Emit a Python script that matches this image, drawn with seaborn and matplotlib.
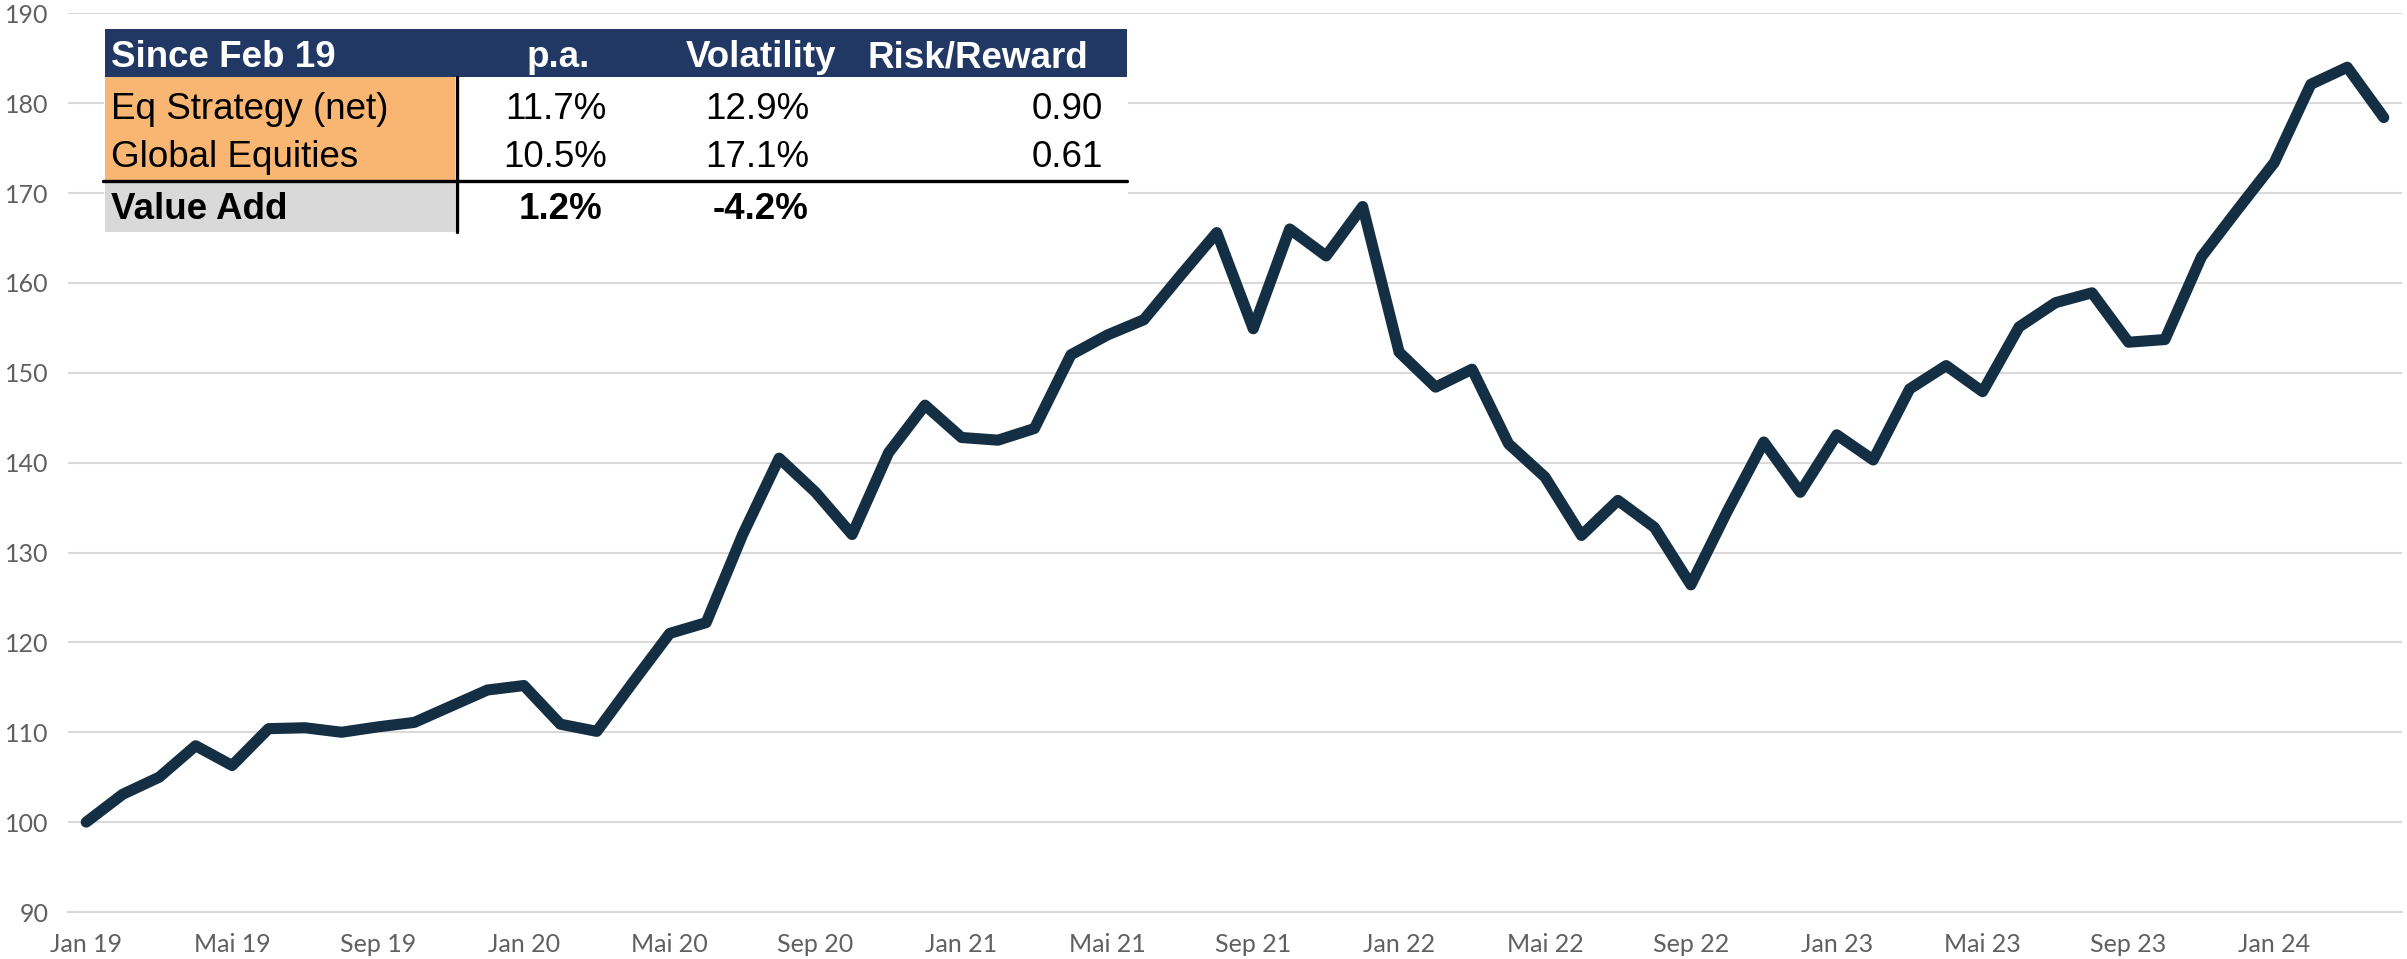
import matplotlib
matplotlib.use("Agg")
import matplotlib.pyplot as plt
import pandas as pd
import seaborn as sns
from matplotlib.patches import Rectangle
from matplotlib.lines import Line2D

# monthly index level, Jan 19 .. Apr 24
index_values = [100.0, 103.1, 105.0, 108.5, 106.3, 110.4, 110.5, 110.0, 110.6, 111.1,
                112.9, 114.7, 115.2, 110.9, 110.1, 115.6, 121.0, 122.2, 132.0, 140.5,
                136.7, 132.0, 141.1, 146.4, 142.8, 142.5, 143.8, 152.0, 154.2, 155.9,
                160.8, 165.6, 154.9, 166.0, 163.0, 168.5, 152.3, 148.4, 150.4, 142.1,
                138.4, 131.9, 135.8, 132.8, 126.4, 134.6, 142.3, 136.7, 143.1, 140.3,
                148.2, 150.8, 147.9, 155.1, 157.8, 158.9, 153.4, 153.7, 162.9, 168.2,
                173.4, 182.1, 184.0, 178.4]
month_labels = ["Jan 19", "Mai 19", "Sep 19", "Jan 20", "Mai 20", "Sep 20", "Jan 21", "Mai 21",
                "Sep 21", "Jan 22", "Mai 22", "Sep 22", "Jan 23", "Mai 23", "Sep 23", "Jan 24"]
y_ticks = [90, 100, 110, 120, 130, 140, 150, 160, 170, 180, 190]

# summary table
table_header = ["Since Feb 19", "p.a.", "Volatility", "Risk/Reward"]
row_names = ["Eq Strategy (net)", "Global Equities"]
pa_values = ["11.7%", "10.5%"]
vol_values = ["12.9%", "17.1%"]
rr_values = ["0.90", "0.61"]
value_add = ["Value Add", "1.2%", "-4.2%"]

LINE_COLOR = "#142F43"
NAVY = "#213764"
ORANGE = "#F8B672"
GREY_CELL = "#D9D9D9"
GRID = "#D9D9D9"
TICK_TXT = "#606060"

W, H = 2407, 959

sns.set_style("white")
plt.rcParams["font.family"] = ["Lato", "DejaVu Sans"]

fig = plt.figure(figsize=(W / 100, H / 100), dpi=100)
ax = fig.add_axes([68 / W, 1 - 912 / H, (2402 - 68) / W, (912 - 13.3) / H])

df = pd.DataFrame({"month": range(len(index_values)), "value": index_values})
sns.lineplot(data=df, x="month", y="value", ax=ax, color=LINE_COLOR, linewidth=8,
             solid_joinstyle="round", solid_capstyle="round", zorder=3)

ax.set_xlim(-0.5, len(index_values) - 0.5)
ax.set_ylim(90, 190)
ax.set_yticks(y_ticks)
ax.set_xticks(range(0, len(index_values), 4))
ax.set_xticklabels(month_labels)
ax.set_xticks([i - 0.5 for i in range(0, len(index_values) + 1, 4)], minor=True)
ax.set_xlabel("")
ax.set_ylabel("")

ax.yaxis.grid(True, color=GRID, linewidth=1.5)
ax.xaxis.grid(False)
for side in ["top", "right", "left"]:
    ax.spines[side].set_visible(False)
ax.spines["bottom"].set_color(GRID)
ax.spines["bottom"].set_linewidth(1.5)

ax.tick_params(axis="x", which="major", length=0, pad=15, labelsize=18, labelcolor=TICK_TXT)
ax.tick_params(axis="x", which="minor", length=4.5, width=1.5, color=GRID, direction="out")
ax.tick_params(axis="y", length=0, pad=14, labelsize=18, labelcolor=TICK_TXT)


def fx(x):
    return x / W


def fy(y):
    return 1 - y / H


def cell(x0, y0, x1, y1, color):
    fig.patches.append(Rectangle((fx(x0), fy(y1)), fx(x1) - fx(x0), fy(y0) - fy(y1),
                                 transform=fig.transFigure, facecolor=color,
                                 edgecolor="none", zorder=5))


# white background behind the table, then cells
cell(104, 29, 1128, 234, "white")
cell(105, 29, 1127, 77, NAVY)
cell(105, 77, 455, 180, ORANGE)
cell(105, 182, 455, 232, GREY_CELL)
fig.lines.append(Line2D([fx(456.5), fx(456.5)], [fy(77), fy(232)], transform=fig.transFigure,
                        color="black", linewidth=2.4, zorder=6))
fig.lines.append(Line2D([fx(103), fx(1127)], [fy(181), fy(181)], transform=fig.transFigure,
                        color="black", linewidth=2.4, zorder=6))

tfont = ["Liberation Sans", "DejaVu Sans"]
fs = 26.5
hdr_kw = dict(color="white", fontsize=fs, fontweight="bold", family=tfont, va="baseline", zorder=7)
fig.text(fx(111), fy(67), table_header[0], ha="left", **hdr_kw)
fig.text(fx(558), fy(67), table_header[1], ha="center", **hdr_kw)
fig.text(fx(761), fy(67), table_header[2], ha="center", **hdr_kw)
fig.text(fx(978), fy(67), table_header[3], ha="center", **hdr_kw)

body_kw = dict(color="black", fontsize=fs, family=tfont, va="baseline", zorder=7)
for i, base in enumerate([119, 167]):
    fig.text(fx(111), fy(base), row_names[i], ha="left", **body_kw)
    fig.text(fx(607), fy(base), pa_values[i], ha="right", **body_kw)
    fig.text(fx(809), fy(base), vol_values[i], ha="right", **body_kw)
    fig.text(fx(1103), fy(base), rr_values[i], ha="right", **body_kw)

bold_kw = dict(body_kw, fontweight="bold")
fig.text(fx(111), fy(219), value_add[0], ha="left", **bold_kw)
fig.text(fx(602), fy(219), value_add[1], ha="right", **bold_kw)
fig.text(fx(809), fy(219), value_add[2], ha="right", **bold_kw)

fig.savefig("out.png", dpi=100, facecolor="white")
